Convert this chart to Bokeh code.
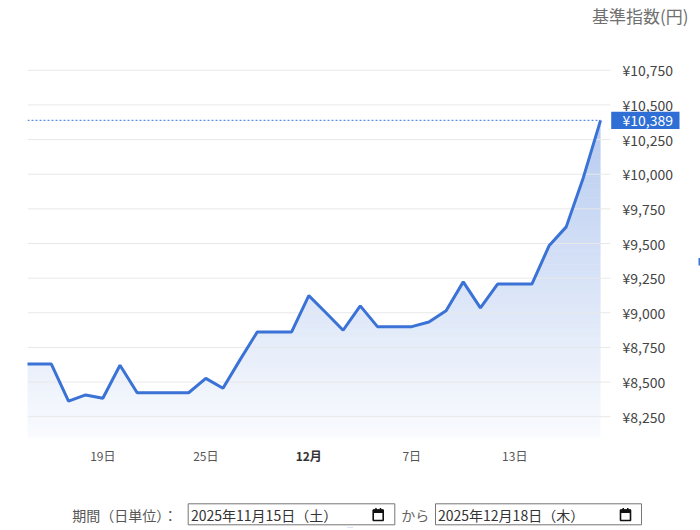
import datetime as dt
import numpy as np
from bokeh.plotting import figure
from bokeh.models import Range1d
from bokeh.embed import file_html
from bokeh.resources import INLINE
from bokeh.core.properties import value

# ---------------- data ----------------
dates = ["2025-11-14", "2025-11-15", "2025-11-16", "2025-11-17", "2025-11-18",
         "2025-11-19", "2025-11-20", "2025-11-21", "2025-11-22", "2025-11-23",
         "2025-11-24", "2025-11-25", "2025-11-26", "2025-11-27", "2025-11-28",
         "2025-11-29", "2025-11-30", "2025-12-01", "2025-12-02", "2025-12-03",
         "2025-12-04", "2025-12-05", "2025-12-06", "2025-12-07", "2025-12-08",
         "2025-12-09", "2025-12-10", "2025-12-11", "2025-12-12", "2025-12-13",
         "2025-12-14", "2025-12-15", "2025-12-16", "2025-12-17", "2025-12-18"]
nav = [8630, 8630, 8630, 8363, 8407,
       8383, 8621, 8423, 8423, 8423,
       8423, 8527, 8455, 8662, 8862,
       8862, 8862, 9124, 9000, 8874,
       9050, 8900, 8900, 8900, 8934,
       9014, 9223, 9035, 9207, 9207,
       9207, 9483, 9620, 9977, 10389]

x_tick_dates = ["2025-11-19", "2025-11-25", "2025-12-01", "2025-12-07", "2025-12-13"]
x_tick_labels = ["19日", "25日", "12月", "7日", "13日"]
x_tick_bold = [False, False, True, False, False]

y_ticks = [8250, 8500, 8750, 9000, 9250, 9500, 9750, 10000, 10250, 10500, 10750]
y_tick_labels = ["¥8,250", "¥8,500", "¥8,750", "¥9,000", "¥9,250", "¥9,500",
                 "¥9,750", "¥10,000", "¥10,250", "¥10,500", "¥10,750"]

axis_title = "基準指数(円)"
last_value_label = "¥10,389"
period_caption = "期間（日単位）："
period_from = "2025年11月15日（土）"
period_sep = "から"
period_to = "2025年12月18日（木）"

# ---------------- layout helpers ----------------
FONT = value("Noto Sans CJK JP")
LINE_RGB = (58, 114, 214)
LINE_HEX = "#%02x%02x%02x" % LINE_RGB

base = dt.date(2025, 11, 15)
def day(s):
    return (dt.date.fromisoformat(s) - base).days

xs = [day(d) for d in dates]
tick_x = [day(d) for d in x_tick_dates]

W, H = 700, 528
# chart area in canvas pixels
CL, CR, CT, CB = 27, 610, 49, 437
x0, x1 = -0.39, 33.58          # visible date span (days from 11/15)
y0, y1 = 8100, 10900           # visible value span
ppx = (CR - CL) / (x1 - x0)
ppy = (CB - CT) / (y1 - y0)

def X(px):
    return x0 + (px - CL) / ppx

def Y(py):
    return y1 - (py - CT) / ppy

p = figure(width=W, height=H, output_backend="svg", toolbar_location=None,
           x_range=Range1d(X(0), X(W)), y_range=Range1d(Y(H), Y(0)),
           x_axis_type=None, y_axis_type=None, min_border=0)
p.outline_line_color = None
p.background_fill_color = "white"
p.border_fill_color = "white"
p.xgrid.visible = False
p.ygrid.visible = False

# gradient area: horizontal colour bands + white mask above the line
top_v = max(nav)
n = 90
edges = np.linspace(y0, top_v, n + 1)
cols = []
for i in range(n):
    t = ((edges[i] + edges[i + 1]) / 2 - y0) / (top_v - y0)
    a = 0.03 + 0.34 * t
    c = tuple(int(round(255 - a * (255 - L))) for L in LINE_RGB)
    cols.append("#%02x%02x%02x" % c)
p.quad(left=xs[0], right=xs[-1], bottom=edges[:-1], top=edges[1:] + 4,
       fill_color=cols, line_color=None)
p.varea(x=xs, y1=nav, y2=[Y(CT - 5)] * len(xs), fill_color="white")

# horizontal grid lines
p.segment(x0=[x0] * len(y_ticks), x1=[x1] * len(y_ticks), y0=y_ticks, y1=y_ticks,
          line_color="#e8e8e8", line_width=1)

# last value dotted line
p.segment(x0=[x0], x1=[xs[-1]], y0=[nav[-1]], y1=[nav[-1]],
          line_color="#5b8fe6", line_width=1.3, line_dash="2 2")

p.line(xs, nav, line_color=LINE_HEX, line_width=3)

# hide anything left of the chart area
p.quad(left=[X(0)], right=[x0], bottom=[Y(CB + 2)], top=[Y(CT - 2)],
       fill_color="white", line_color=None)

# y tick labels (right)
p.text(x=[X(622)] * len(y_ticks), y=y_ticks, text=y_tick_labels, text_font=FONT,
       text_font_size="14px", text_color="#444444", text_baseline="middle",
       text_align="left")

# last value box
p.quad(left=[X(610.7)], right=[X(679)], top=[nav[-1] + 8.6 / ppy],
       bottom=[nav[-1] - 8.6 / ppy], fill_color="#2f6fd5", line_color=None)
p.text(x=[X(622)], y=[nav[-1]], text=[last_value_label], text_font=FONT,
       text_font_size="14px", text_color="white", text_baseline="middle",
       text_align="left")

# x tick labels
nx = [t for t, b in zip(tick_x, x_tick_bold) if not b]
nl = [l for l, b in zip(x_tick_labels, x_tick_bold) if not b]
bx = [t for t, b in zip(tick_x, x_tick_bold) if b]
bl = [l for l, b in zip(x_tick_labels, x_tick_bold) if b]
p.text(x=nx, y=[Y(455)] * len(nx), text=nl, text_font=FONT, text_font_size="12px",
       text_color="#555555", text_baseline="middle", text_align="center")
p.text(x=bx, y=[Y(455)] * len(bx), text=bl, text_font=FONT, text_font_size="12px",
       text_font_style="bold", text_color="#333333", text_baseline="middle",
       text_align="center")

# axis title
p.text(x=[X(688)], y=[Y(15)], text=[axis_title], text_font=FONT,
       text_font_size="17px", text_color="#707070", text_baseline="middle",
       text_align="right")

# small edge marker at right
p.quad(left=[X(698)], right=[X(700)], top=[Y(257.5)], bottom=[Y(265)],
       fill_color="#3a72d6", line_color=None)

# ---------------- period controls ----------------
box_l = [X(187.7), X(435.0)]
box_r = [X(394.3), X(641.0)]
p.quad(left=box_l, right=box_r, top=[Y(503.3)] * 2, bottom=[Y(524.3)] * 2,
       fill_color="white", line_color="#767676", line_width=1)
ic = [372.7, 620.0]
p.quad(left=[X(v) for v in ic], right=[X(v + 10) for v in ic],
       top=[Y(509.5)] * 2, bottom=[Y(520)] * 2,
       fill_color=None, line_color="#111111", line_width=1.6)
p.quad(left=[X(v) for v in ic], right=[X(v + 10) for v in ic],
       top=[Y(509)] * 2, bottom=[Y(512.5)] * 2, fill_color="#111111", line_color=None)
p.quad(left=[X(v + 2) for v in ic] + [X(v + 6.5) for v in ic],
       right=[X(v + 3.5) for v in ic] + [X(v + 8) for v in ic],
       top=[Y(507.5)] * 4, bottom=[Y(509.5)] * 4, fill_color="#111111", line_color=None)
p.quad(left=[X(346.7)], right=[X(352.7)], top=[Y(527.3)], bottom=[Y(531)],
       fill_color="#3a72d6", line_color=None)

p.text(x=[X(71.7)], y=[Y(514)], text=[period_caption], text_font=FONT,
       text_font_size="14px", text_color="#555555", text_baseline="middle")
p.text(x=[X(190.5), X(437.5)], y=[Y(514)] * 2, text=[period_from, period_to],
       text_font=FONT, text_font_size="14px", text_color="#333333",
       text_baseline="middle")
p.text(x=[X(400.7)], y=[Y(514)], text=[period_sep], text_font=FONT,
       text_font_size="14px", text_color="#666666", text_baseline="middle")

open("out.html", "w").write(file_html(p, INLINE))
